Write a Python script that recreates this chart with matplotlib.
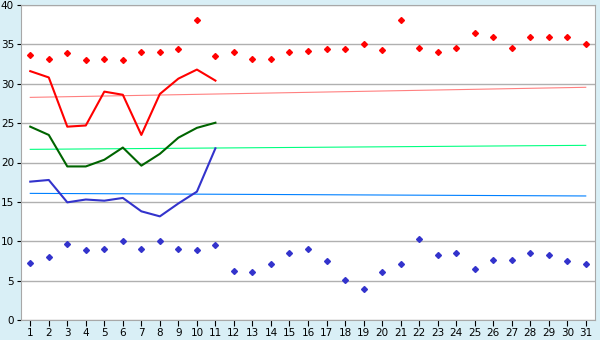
import matplotlib
matplotlib.use("Agg")
import matplotlib.pyplot as plt

days = list(range(1, 32))

# daily extremes (points)
max_pts = [33.65, 33.2, 33.9, 33.0, 33.2, 33.0, 34.0, 34.0, 34.4, 38.05,
           33.5, 34.0, 33.1, 33.2, 34.0, 34.1, 34.4, 34.4, 35.0, 34.25,
           38.05, 34.6, 34.0, 34.5, 36.5, 36.0, 34.6, 36.0, 36.0, 36.0, 35.0]
min_pts = [7.2, 7.96, 9.6, 8.85, 8.97, 10.0, 8.97, 10.0, 8.97, 8.85,
           9.48, 6.18, 6.05, 7.07, 8.46, 8.97, 7.45, 5.04, 4.0, 6.05,
           7.07, 10.25, 8.2, 8.46, 6.43, 7.58, 7.58, 8.46, 8.2, 7.45, 7.07]

# current month series (days 1-11)
line_days = list(range(1, 12))
red_line = [31.6, 30.8, 24.55, 24.7, 29.0, 28.6, 23.5, 28.7, 30.65, 31.8, 30.4]
green_line = [24.55, 23.5, 19.5, 19.5, 20.35, 21.9, 19.6, 21.1, 23.15, 24.4, 25.05]
blue_line = [17.57, 17.78, 14.94, 15.3, 15.15, 15.5, 13.8, 13.16, 14.8, 16.3, 21.8]

# trend lines (start and end of month)
trend_days = [1, 31]
red_trend = [28.27, 29.55]
green_trend = [21.67, 22.18]
blue_trend = [16.08, 15.75]

fig = plt.figure(figsize=(6, 3.4), dpi=100, facecolor="#D9EFF6")
ax = fig.add_axes([21 / 600, 20 / 340, 574 / 600, 315 / 340])
ax.set_facecolor("white")

ax.plot(trend_days, red_trend, color="#FF8080", lw=0.8)
ax.plot(trend_days, green_trend, color="#00FF80", lw=0.8)
ax.plot(trend_days, blue_trend, color="#0080FF", lw=0.8)

ax.plot(line_days, red_line, color="#FF0000", lw=1.5)
ax.plot(line_days, green_line, color="#006400", lw=1.5)
ax.plot(line_days, blue_line, color="#3333CC", lw=1.5)

ax.plot(days, max_pts, ls="none", marker="D", ms=3.0, color="#FF0000")
ax.plot(days, min_pts, ls="none", marker="D", ms=3.0, color="#3333CC")

ax.set_xlim(0.5, 31.5)
ax.set_ylim(0, 40)
ax.set_xticks(days)
ax.set_yticks(range(0, 41, 5))
ax.yaxis.grid(True, color="#B0B0B0", lw=1)
ax.set_axisbelow(True)
ax.tick_params(labelsize=7.5, width=0.8, color="black", pad=2)
ax.tick_params(axis="y", length=3)
ax.tick_params(axis="x", length=4)
for side in ("top", "right", "left", "bottom"):
    ax.spines[side].set_color("#A8A8A8")

fig.savefig("out.png", dpi=100, facecolor=fig.get_facecolor())
